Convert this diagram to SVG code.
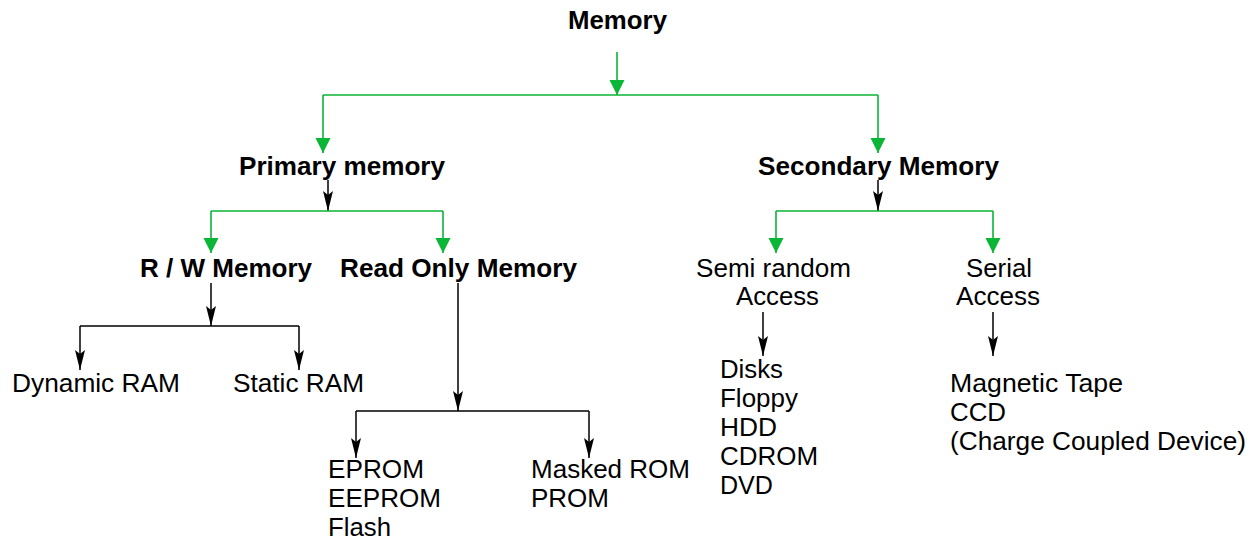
<svg xmlns="http://www.w3.org/2000/svg" width="1253" height="541" viewBox="0 0 1253 541">
<style>
  text { font-family: "Liberation Sans", Arial, sans-serif; font-size: 25px; fill: #000; }
  .b { font-weight: bold; }
  .g { stroke: #0BB535; stroke-width: 1.6; fill: none; }
  .k { stroke: #000; stroke-width: 1.5; fill: none; }
</style>
<defs>
  <marker id="ga" markerUnits="userSpaceOnUse" markerWidth="16" markerHeight="18" viewBox="0 -8 16 16" refX="15" refY="0" orient="auto">
    <path d="M0,-7.5 L15,0 L0,7.5 z" fill="#0BB535"/>
  </marker>
  <marker id="ka" markerUnits="userSpaceOnUse" markerWidth="22" markerHeight="12" viewBox="0 -6 22 12" refX="20" refY="0" orient="auto">
    <path d="M0,-5 L20,0 L0,5 L4,0 z" fill="#000"/>
  </marker>
</defs>

<g id="connectors">
  <line class="g" x1="617" y1="52" x2="617" y2="95" marker-end="url(#ga)"/>
  <line class="g" x1="323" y1="95" x2="878" y2="95"/>
  <line class="g" x1="323" y1="95" x2="323" y2="153" marker-end="url(#ga)"/>
  <line class="g" x1="878" y1="95" x2="878" y2="153" marker-end="url(#ga)"/>
  <line class="k" x1="328" y1="180" x2="328" y2="211" marker-end="url(#ka)"/>
  <line class="g" x1="211" y1="211" x2="443" y2="211"/>
  <line class="g" x1="211" y1="211" x2="211" y2="253" marker-end="url(#ga)"/>
  <line class="g" x1="443" y1="211" x2="443" y2="253" marker-end="url(#ga)"/>
  <line class="k" x1="878" y1="180" x2="878" y2="211" marker-end="url(#ka)"/>
  <line class="g" x1="776" y1="211" x2="993" y2="211"/>
  <line class="g" x1="776" y1="211" x2="776" y2="253" marker-end="url(#ga)"/>
  <line class="g" x1="993" y1="211" x2="993" y2="253" marker-end="url(#ga)"/>
  <line class="k" x1="211" y1="283" x2="211" y2="326" marker-end="url(#ka)"/>
  <line class="k" x1="80" y1="326" x2="299" y2="326"/>
  <line class="k" x1="80" y1="326" x2="80" y2="370" marker-end="url(#ka)"/>
  <line class="k" x1="299" y1="326" x2="299" y2="370" marker-end="url(#ka)"/>
  <line class="k" x1="458" y1="283" x2="458" y2="411" marker-end="url(#ka)"/>
  <line class="k" x1="356" y1="411" x2="589" y2="411"/>
  <line class="k" x1="356" y1="411" x2="356" y2="458" marker-end="url(#ka)"/>
  <line class="k" x1="589" y1="411" x2="589" y2="458" marker-end="url(#ka)"/>
  <line class="k" x1="763" y1="312" x2="763" y2="356" marker-end="url(#ka)"/>
  <line class="k" x1="993" y1="312" x2="993" y2="356" marker-end="url(#ka)"/>
</g>

<g id="memory"><text class="b" x="568" y="29" textLength="99" lengthAdjust="spacingAndGlyphs">Memory</text></g>
<g id="primary"><text class="b" x="239" y="175" textLength="206" lengthAdjust="spacingAndGlyphs">Primary memory</text></g>
<g id="secondary"><text class="b" x="758" y="175" textLength="241" lengthAdjust="spacingAndGlyphs">Secondary Memory</text></g>
<g id="rw"><text class="b" x="140" y="277" textLength="172" lengthAdjust="spacingAndGlyphs">R / W Memory</text></g>
<g id="rom"><text class="b" x="340" y="277" textLength="237" lengthAdjust="spacingAndGlyphs">Read Only Memory</text></g>
<g id="semi">
  <text x="696" y="277" textLength="155" lengthAdjust="spacingAndGlyphs">Semi random</text>
  <text x="736" y="305" textLength="83" lengthAdjust="spacingAndGlyphs">Access</text>
</g>
<g id="serial">
  <text x="966" y="277" textLength="66" lengthAdjust="spacingAndGlyphs">Serial</text>
  <text x="956" y="305" textLength="84" lengthAdjust="spacingAndGlyphs">Access</text>
</g>
<g id="dram"><text x="12" y="392" textLength="168" lengthAdjust="spacingAndGlyphs">Dynamic RAM</text></g>
<g id="sram"><text x="233" y="392" textLength="131" lengthAdjust="spacingAndGlyphs">Static RAM</text></g>
<g id="eprom">
  <text x="328" y="478" textLength="96" lengthAdjust="spacingAndGlyphs">EPROM</text>
  <text x="328" y="507" textLength="113" lengthAdjust="spacingAndGlyphs">EEPROM</text>
  <text x="328" y="536" textLength="63" lengthAdjust="spacingAndGlyphs">Flash</text>
</g>
<g id="masked">
  <text x="531" y="478" textLength="159" lengthAdjust="spacingAndGlyphs">Masked ROM</text>
  <text x="531" y="507" textLength="78" lengthAdjust="spacingAndGlyphs">PROM</text>
</g>
<g id="disks">
  <text x="720" y="378" textLength="63" lengthAdjust="spacingAndGlyphs">Disks</text>
  <text x="720" y="407" textLength="78" lengthAdjust="spacingAndGlyphs">Floppy</text>
  <text x="720" y="436" textLength="57" lengthAdjust="spacingAndGlyphs">HDD</text>
  <text x="720" y="465" textLength="98" lengthAdjust="spacingAndGlyphs">CDROM</text>
  <text x="720" y="494" textLength="53" lengthAdjust="spacingAndGlyphs">DVD</text>
</g>
<g id="tape">
  <text x="950" y="392" textLength="173" lengthAdjust="spacingAndGlyphs">Magnetic Tape</text>
  <text x="950" y="421" textLength="56" lengthAdjust="spacingAndGlyphs">CCD</text>
  <text x="950" y="450" textLength="296" lengthAdjust="spacingAndGlyphs">(Charge Coupled Device)</text>
</g>
</svg>
